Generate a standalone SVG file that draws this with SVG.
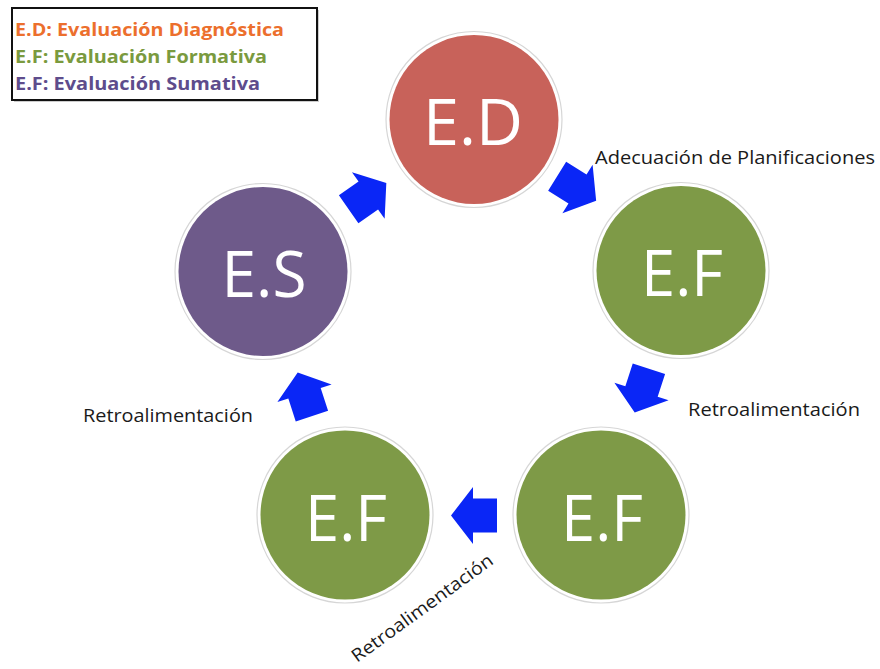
<svg xmlns="http://www.w3.org/2000/svg" width="880" height="669" viewBox="0 0 880 669">
<style>
.ring{fill:#ffffff;stroke:#d6d6d6;stroke-width:1.2}
.ed{fill:#c8625a}
.ef{fill:#7e9a47}
.es{fill:#6e5a8a}
.ctext{font-family:"Open Sans","DejaVu Sans",sans-serif;font-size:64px;fill:#ffffff;text-anchor:middle}
.lbl{font-family:"Open Sans","DejaVu Sans",sans-serif;font-size:18px;fill:#1a1a1a}
.leg{font-family:"Open Sans","DejaVu Sans",sans-serif;font-size:18px;font-weight:700}
.arrow{fill:#0a26f6}
</style>
<defs>
<polygon id="blk" points="-24,-17 0,-17 0,-28.5 22,0 0,28.5 0,17 -24,17"/>
</defs>
<rect width="880" height="669" fill="#ffffff"/>
<g id="legend">
<rect x="14" y="10" width="305" height="92" fill="#cccccc"/>
<rect x="12" y="8" width="305" height="92" fill="#ffffff" stroke="#111111" stroke-width="2"/>
<text class="leg" x="15" y="36" fill="#ec6f2d" textLength="269" lengthAdjust="spacingAndGlyphs">E.D: Evaluación Diagnóstica</text>
<text class="leg" x="15" y="63" fill="#7a9a3e" textLength="252" lengthAdjust="spacingAndGlyphs">E.F: Evaluación Formativa</text>
<text class="leg" x="15" y="90" fill="#5e4c8c" textLength="245" lengthAdjust="spacingAndGlyphs">E.F: Evaluación Sumativa</text>
</g>
<g id="node-ed">
<circle class="ring" cx="474" cy="119.5" r="88"/>
<circle class="ed" cx="474" cy="119.5" r="84.5"/>
<text class="ctext" x="473" y="145" textLength="100" lengthAdjust="spacingAndGlyphs">E.D</text>
</g>
<g id="node-ef1">
<circle class="ring" cx="681" cy="270.5" r="88"/>
<circle class="ef" cx="681" cy="270.5" r="84.5"/>
<text class="ctext" x="682" y="296" textLength="82" lengthAdjust="spacingAndGlyphs">E.F</text>
</g>
<g id="node-ef2">
<circle class="ring" cx="601" cy="515" r="88"/>
<circle class="ef" cx="601" cy="515" r="84.5"/>
<text class="ctext" x="602" y="541" textLength="82" lengthAdjust="spacingAndGlyphs">E.F</text>
</g>
<g id="node-ef3">
<circle class="ring" cx="345" cy="515" r="88"/>
<circle class="ef" cx="345" cy="515" r="84.5"/>
<text class="ctext" x="346" y="541" textLength="82" lengthAdjust="spacingAndGlyphs">E.F</text>
</g>
<g id="node-es">
<circle class="ring" cx="263" cy="271.5" r="88"/>
<circle class="es" cx="263" cy="271.5" r="84.5"/>
<text class="ctext" x="264" y="297" textLength="85" lengthAdjust="spacingAndGlyphs">E.S</text>
</g>
<g id="connectors">
<use href="#blk" class="arrow" transform="translate(577.5,189) rotate(32)"/>
<use href="#blk" class="arrow" transform="translate(641.5,391.5) rotate(108)"/>
<use href="#blk" class="arrow" transform="translate(473,515.5) rotate(180)"/>
<use href="#blk" class="arrow" transform="translate(304.5,393.3) rotate(-108)"/>
<use href="#blk" class="arrow" transform="translate(368.3,195.5) rotate(-35)"/>
</g>
<g id="labels">
<text class="lbl" x="595" y="164" textLength="280" lengthAdjust="spacingAndGlyphs">Adecuación de Planificaciones</text>
<text class="lbl" x="688" y="416" textLength="172" lengthAdjust="spacingAndGlyphs">Retroalimentación</text>
<text class="lbl" x="83" y="422" textLength="170" lengthAdjust="spacingAndGlyphs">Retroalimentación</text>
<text class="lbl" transform="translate(357,663) rotate(-36)" textLength="170" lengthAdjust="spacingAndGlyphs">Retroalimentación</text>
</g>
</svg>
